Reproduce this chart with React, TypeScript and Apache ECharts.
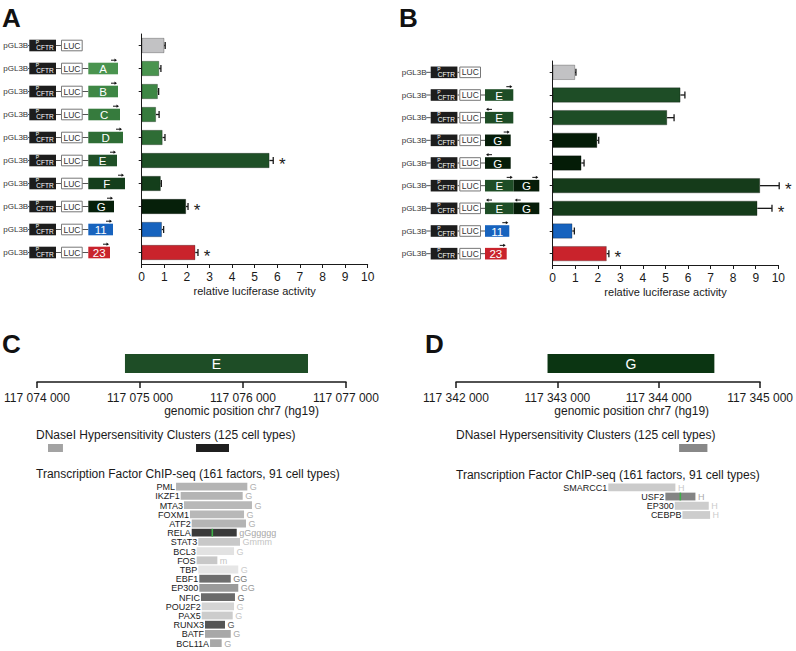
import React, { useEffect, useRef } from 'react';
import * as echarts from 'echarts';

const FONT = '"Liberation Sans", Arial, Helvetica, sans-serif';
const INK = '#1a1a1a';

// ---------------- Panel A ----------------
const aRows = ['ctrl', 'A', 'B', 'C', 'D', 'E', 'F', 'G', '11', '23'];
const aInserts = ['', 'A', 'B', 'C', 'D', 'E', 'F', 'G', '11', '23'];
const aValues = [1.0, 0.77, 0.71, 0.63, 0.92, 5.65, 0.84, 1.96, 0.89, 2.37];
const aErrors = [0.04, 0.08, 0.04, 0.14, 0.11, 0.17, 0.03, 0.09, 0.08, 0.12];
const aSig = [0, 0, 0, 0, 0, 1, 0, 1, 0, 1];
const aColors = ['#c2c2c4', '#4a944f', '#3e8745', '#367b3d', '#2e6d35', '#1f5027', '#143e1b', '#06200a', '#1763be', '#c9232c'];
const aInsertW = [0, 29.7, 29.7, 31.7, 34.7, 28.7, 36.7, 25.7, 24.7, 21.7];

// ---------------- Panel B ----------------
const bRows = ['ctrl', 'E+', 'E-', 'G+', 'G-', 'EG+', 'EG-', '11', '23'];
const bInserts: string[][] = [[], ['E'], ['E'], ['G'], ['G'], ['E', 'G'], ['E', 'G'], ['11'], ['23']];
const bOrient = [1, 1, -1, 1, -1, 1, -1, 1, 1];
const bValues = [0.99, 5.66, 5.07, 1.97, 1.27, 9.19, 9.07, 0.87, 2.39];
const bErrors = [0.04, 0.2, 0.31, 0.07, 0.12, 0.85, 0.65, 0.09, 0.1];
const bSig = [0, 0, 0, 0, 0, 1, 1, 0, 1];
const bColors = ['#c2c2c4', '#1e4d26', '#1e4d26', '#041c07', '#041c07', '#153b1a', '#153b1a', '#1763be', '#c9232c'];
const bInsertW: number[][] = [[], [28.3], [28.3], [25.7], [25.7], [28.7, 25.6], [28.7, 25.6], [24.3], [21.7]];
const segColor: Record<string, string> = { E: '#1e4d26', G: '#061d09', '11': '#1763be', '23': '#c9232c' };

// ---------------- Panel C ----------------
const cMin = 117074000;
const cRegion = ['E'];
const cRegionStart = [117074854];
const cRegionEnd = [117076631];
const cRegionColor = ['#1e4d26'];
const cDnaseStart = [117074107, 117075544];
const cDnaseEnd = [117074252, 117075864];
const cDnaseShade = ['#a3a3a3', '#1f1f1f'];
const cFactors = ['PML', 'IKZF1', 'MTA3', 'FOXM1', 'ATF2', 'RELA', 'STAT3', 'BCL3', 'FOS', 'TBP', 'EBF1', 'EP300', 'NFIC', 'POU2F2', 'PAX5', 'RUNX3', 'BATF', 'BCL11A'];
const cStart = [117075350, 117075395, 117075427, 117075485, 117075502, 117075502, 117075566, 117075550, 117075550, 117075566, 117075576, 117075576, 117075592, 117075599, 117075599, 117075631, 117075631, 117075680];
const cEnd = [117076042, 117075997, 117076087, 117076010, 117076029, 117075939, 117075971, 117075913, 117075751, 117075954, 117075881, 117075954, 117075922, 117075913, 117075900, 117075825, 117075881, 117075793];
const cSuffix = ['G', 'G', 'G', 'G', 'G', 'gGggggg', 'Gmmm', 'G', 'm', 'G', 'GG', 'GG', 'G', 'G', 'G', 'G', 'G', 'G'];
const cShade = ['#b4b4b4', '#b4b4b4', '#b8b8b8', '#b8b8b8', '#b4b4b4', '#3a3a3a', '#c8c8c8', '#e2e2e2', '#c8c8c8', '#e6e6e6', '#6e6e6e', '#9a9a9a', '#6a6a6a', '#d4d4d4', '#cccccc', '#555555', '#a8a8a8', '#a8a8a8'];
const cSuffixShade = ['#b0b0b0', '#b0b0b0', '#b0b0b0', '#b0b0b0', '#b0b0b0', '#a8a8a8', '#c4c4c4', '#c8c8c8', '#c4c4c4', '#cccccc', '#777777', '#999999', '#666666', '#c8c8c8', '#c4c4c4', '#555555', '#a8a8a8', '#a8a8a8'];
const cMotif = [0, 0, 0, 0, 0, 117075702, 0, 0, 0, 0, 0, 0, 0, 0, 0, 0, 0, 0];

// ---------------- Panel D ----------------
const dMin = 117342000;
const dRegion = ['G'];
const dRegionStart = [117342903];
const dRegionEnd = [117344549];
const dRegionColor = ['#0b3512'];
const dDnaseStart = [117344159];
const dDnaseEnd = [117344433];
const dDnaseShade = ['#888888'];
const dFactors = ['SMARCC1', 'USF2', 'EP300', 'CEBPB'];
const dStart = [117343474, 117344026, 117344117, 117344191];
const dEnd = [117344123, 117344317, 117344446, 117344459];
const dSuffix = ['H', 'H', 'H', 'H'];
const dShade = ['#cbcbcb', '#848484', '#cdcdcd', '#cdcdcd'];
const dSuffixShade = ['#c8c8c8', '#aaaaaa', '#cccccc', '#cccccc'];
const dMotif = [0, 117344171, 0, 0];

const fmtGenome = (v: number) => String(v).replace(/\B(?=(\d{3})+(?!\d))/g, ' ');

type Seg = { label: string; color: string; w: number; dir: number };
type Lay = { text: number; p: number; luc: number; ins: number };

function constructChildren(lay: Lay, cy: number, segs: Seg[]) {
  const h = 11.6;
  const top = cy - h / 2;
  const ch: any[] = [];
  ch.push({ type: 'text', style: { text: 'pGL3B', x: lay.text, y: cy, align: 'left', verticalAlign: 'middle', fontSize: 8, fontFamily: FONT, fill: '#333' } });
  ch.push({ type: 'line', shape: { x1: lay.text + 24.5, y1: cy, x2: lay.p, y2: cy }, style: { stroke: '#555', lineWidth: 1 } });
  ch.push({ type: 'rect', shape: { x: lay.p, y: top, width: 26.7, height: h }, style: { fill: '#1d1d1d' } });
  ch.push({ type: 'text', style: { text: 'P', x: lay.p + 6.5, y: top, align: 'left', verticalAlign: 'top', fontSize: 5, fontFamily: FONT, fill: '#fff' } });
  ch.push({ type: 'text', style: { text: 'CFTR', x: lay.p + 7, y: top + h, align: 'left', verticalAlign: 'bottom', fontSize: 6.5, fontFamily: FONT, fill: '#fff' } });
  ch.push({ type: 'line', shape: { x1: lay.p + 26.7, y1: cy, x2: lay.luc, y2: cy }, style: { stroke: '#555', lineWidth: 1 } });
  ch.push({ type: 'rect', shape: { x: lay.luc + 0.5, y: top + 0.5, width: 20.7, height: h - 1 }, style: { fill: '#fff', stroke: '#777', lineWidth: 1 } });
  ch.push({ type: 'text', style: { text: 'LUC', x: lay.luc + 11, y: cy, align: 'center', verticalAlign: 'middle', fontSize: 8.5, fontFamily: FONT, fill: '#333' } });
  if (segs.length) {
    ch.push({ type: 'line', shape: { x1: lay.luc + 21.5, y1: cy, x2: lay.ins, y2: cy }, style: { stroke: '#555', lineWidth: 1 } });
    let x = lay.ins;
    segs.forEach((s) => {
      ch.push({ type: 'rect', shape: { x, y: top, width: s.w, height: h }, style: { fill: s.color } });
      ch.push({ type: 'text', style: { text: s.label, x: x + s.w / 2, y: cy + 0.5, align: 'center', verticalAlign: 'middle', fontSize: 11.5, fontFamily: FONT, fill: '#fff' } });
      const ay = top - 2.5;
      if (s.dir > 0) {
        const x2 = x + s.w - 1;
        const x1 = x2 - 6;
        ch.push({ type: 'line', shape: { x1, y1: ay, x2: x2 - 1.5, y2: ay }, style: { stroke: '#111', lineWidth: 1 } });
        ch.push({ type: 'polygon', shape: { points: [[x2, ay], [x2 - 2.5, ay - 1.6], [x2 - 2.5, ay + 1.6]] }, style: { fill: '#111' } });
      } else {
        const x1 = x + 1;
        const x2 = x1 + 6;
        ch.push({ type: 'line', shape: { x1: x1 + 1.5, y1: ay, x2, y2: ay }, style: { stroke: '#111', lineWidth: 1 } });
        ch.push({ type: 'polygon', shape: { points: [[x1, ay], [x1 + 2.5, ay - 1.6], [x1 + 2.5, ay + 1.6]] }, style: { fill: '#111' } });
      }
      x += s.w;
    });
  }
  return ch;
}

const errorRender = (params: any, api: any) => {
  const v = api.value(0);
  const i = api.value(1);
  const e = api.value(2);
  const s = api.value(3);
  const p1 = api.coord([v, i]);
  const p2 = api.coord([v + e, i]);
  const children: any[] = [
    { type: 'line', shape: { x1: p1[0], y1: p1[1], x2: p2[0], y2: p2[1] }, style: { stroke: INK, lineWidth: 1.3 } },
    { type: 'line', shape: { x1: p2[0], y1: p2[1] - 3.5, x2: p2[0], y2: p2[1] + 3.5 }, style: { stroke: INK, lineWidth: 1.3 } },
  ];
  if (s) {
    children.push({ type: 'text', style: { text: '*', x: p2[0] + 9, y: p2[1] + 4, align: 'center', verticalAlign: 'middle', fontSize: 17, fontFamily: FONT, fill: INK } });
  }
  return { type: 'group', children };
};

function barXAxis(gridIndex: number) {
  return {
    type: 'value', gridIndex, min: 0, max: 10, interval: 1,
    axisLine: { show: true, onZero: false, lineStyle: { color: INK, width: 1 } },
    axisTick: { show: true, length: 4, lineStyle: { color: INK } },
    axisLabel: { fontSize: 12, color: INK, margin: 7, fontFamily: FONT },
    splitLine: { show: false },
    name: 'relative luciferase activity', nameLocation: 'middle', nameGap: 21,
    nameTextStyle: { fontSize: 11, color: INK, fontFamily: FONT },
  };
}
function barYAxis(gridIndex: number, data: string[]) {
  return {
    type: 'category', gridIndex, data, inverse: true,
    axisLine: { show: true, onZero: false, lineStyle: { color: INK } },
    axisTick: { show: true, alignWithLabel: true, length: 3, lineStyle: { color: INK } },
    axisLabel: { show: false },
  };
}
function genomeAxis(gridIndex: number, min: number, show: boolean) {
  return {
    type: 'value', gridIndex, min, max: min + 3000, interval: 1000, show,
    axisLine: { show: true, onZero: false, lineStyle: { color: INK, width: 1.5 } },
    axisTick: { show: true, length: 6, lineStyle: { color: INK, width: 1.5 } },
    axisLabel: { fontSize: 12, color: INK, margin: 10, fontFamily: FONT, formatter: fmtGenome, showMinLabel: true, showMaxLabel: true },
    splitLine: { show: false },
  };
}
const hiddenValueY = (gridIndex: number) => ({ type: 'value', gridIndex, min: 0, max: 1, show: false });
const hiddenCatY = (gridIndex: number, data: string[]) => ({ type: 'category', gridIndex, data, inverse: true, show: false });

function regionSeries(idx: number, starts: number[], ends: number[], names: string[], colors: string[]) {
  return {
    type: 'custom', xAxisIndex: idx, yAxisIndex: idx, silent: true,
    data: starts.map((s, i) => [s, ends[i], 0.5]),
    encode: { x: [0, 1], y: 2 },
    renderItem: (params: any, api: any) => {
      const i = params.dataIndex;
      const s = api.coord([api.value(0), 1]);
      const e = api.coord([api.value(1), 1]);
      return {
        type: 'group', children: [
          { type: 'rect', shape: { x: s[0], y: s[1], width: e[0] - s[0], height: 19 }, style: { fill: colors[i] } },
          { type: 'text', style: { text: names[i], x: (s[0] + e[0]) / 2, y: s[1] + 10, align: 'center', verticalAlign: 'middle', fill: '#fff', fontSize: 14, fontFamily: FONT } },
        ],
      };
    },
  };
}
function dnaseSeries(idx: number, starts: number[], ends: number[], shades: string[]) {
  return {
    type: 'custom', xAxisIndex: idx, yAxisIndex: idx, silent: true,
    data: starts.map((s, i) => [s, ends[i], 0.5]),
    encode: { x: [0, 1], y: 2 },
    renderItem: (params: any, api: any) => {
      const i = params.dataIndex;
      const s = api.coord([api.value(0), 1]);
      const e = api.coord([api.value(1), 0]);
      return { type: 'rect', shape: { x: s[0], y: s[1], width: e[0] - s[0], height: e[1] - s[1] }, style: { fill: shades[i] } };
    },
  };
}
function chipSeries(idx: number, names: string[], starts: number[], ends: number[], shades: string[], suffix: string[], sufShade: string[], motif: number[]) {
  return {
    type: 'custom', xAxisIndex: idx, yAxisIndex: idx, silent: true,
    data: starts.map((s, i) => [s, ends[i], i]),
    encode: { x: [0, 1], y: 2 },
    renderItem: (params: any, api: any) => {
      const i = params.dataIndex;
      const s = api.coord([api.value(0), i]);
      const e = api.coord([api.value(1), i]);
      const h = 7.8;
      const ch: any[] = [
        { type: 'rect', shape: { x: s[0], y: s[1] - h / 2, width: e[0] - s[0], height: h }, style: { fill: shades[i] } },
        { type: 'text', style: { text: names[i], x: s[0] - 1, y: s[1] + 0.5, align: 'right', verticalAlign: 'middle', fontSize: 9, fontFamily: FONT, fill: '#1a1a1a' } },
        { type: 'text', style: { text: suffix[i], x: e[0] + 2.5, y: s[1] + 0.5, align: 'left', verticalAlign: 'middle', fontSize: 9, fontFamily: FONT, fill: sufShade[i] } },
      ];
      if (motif[i]) {
        const m = api.coord([motif[i], i]);
        ch.push({ type: 'rect', shape: { x: m[0] - 0.8, y: s[1] - h / 2, width: 1.6, height: h }, style: { fill: '#3fae49' } });
      }
      return { type: 'group', children: ch };
    },
  };
}

function constructSeries(idx: number, n: number, lay: Lay, segsFor: (i: number) => Seg[]) {
  return {
    type: 'custom', xAxisIndex: idx, yAxisIndex: idx, silent: true, clip: false,
    data: Array.from({ length: n }, (_, i) => [0, i]),
    encode: { x: 0, y: 1 },
    renderItem: (params: any, api: any) => {
      const i = params.dataIndex;
      const cy = api.coord([0, i])[1];
      return { type: 'group', children: constructChildren(lay, cy, segsFor(i)) };
    },
  };
}

function buildOption(): any {
  const aLay: Lay = { text: 3.3, p: 29.3, luc: 61, ins: 88.3 };
  const bLay: Lay = { text: 401.7, p: 430.7, luc: 459.3, ins: 485 };
  const letter = (t: string, x: number, y: number) => ({
    type: 'text', left: x, top: y, silent: true,
    style: { text: t, fontSize: 26, fontWeight: 'bold', fontFamily: FONT, fill: '#111' },
  });
  const label = (t: string, x: number, y: number, align = 'left') => ({
    type: 'text', x, y, silent: true,
    style: { text: t, fontSize: 12, fontFamily: FONT, fill: INK, align, verticalAlign: 'middle' },
  });
  return {
    animation: false,
    backgroundColor: '#ffffff',
    textStyle: { fontFamily: FONT },
    grid: [
      { left: 141.7, top: 34, width: 226, height: 230 },
      { left: 552.7, top: 61, width: 225.6, height: 204 },
      { left: 37, top: 354, width: 309, height: 28 },
      { left: 37, top: 444, width: 309, height: 8 },
      { left: 37, top: 482.1, width: 309, height: 165.6 },
      { left: 456, top: 354, width: 310, height: 28 },
      { left: 456, top: 444, width: 310, height: 8 },
      { left: 456, top: 482.7, width: 310, height: 36.9 },
    ],
    xAxis: [
      barXAxis(0), barXAxis(1),
      genomeAxis(2, cMin, true), genomeAxis(3, cMin, false), genomeAxis(4, cMin, false),
      genomeAxis(5, dMin, true), genomeAxis(6, dMin, false), genomeAxis(7, dMin, false),
    ],
    yAxis: [
      barYAxis(0, aRows), barYAxis(1, bRows),
      hiddenValueY(2), hiddenValueY(3), hiddenCatY(4, cFactors),
      hiddenValueY(5), hiddenValueY(6), hiddenCatY(7, dFactors),
    ],
    graphic: [
      letter('A', 2, 5),
      letter('B', 399, 5),
      letter('C', 2, 331),
      letter('D', 425, 331),
      label('genomic position chr7 (hg19)', 241.5, 411, 'center'),
      label('genomic position chr7 (hg19)', 631.7, 411, 'center'),
      label('DNaseI Hypersensitivity Clusters (125 cell types)', 36, 435),
      label('DNaseI Hypersensitivity Clusters (125 cell types)', 456, 435),
      label('Transcription Factor ChIP-seq (161 factors, 91 cell types)', 36, 474),
      label('Transcription Factor ChIP-seq (161 factors, 91 cell types)', 456, 475),
    ],
    series: [
      {
        type: 'bar', xAxisIndex: 0, yAxisIndex: 0, barWidth: 15, silent: true,
        data: aValues.map((v, i) => ({ value: v, itemStyle: { color: aColors[i], borderColor: 'rgba(0,0,0,0.45)', borderWidth: 0.6 } })),
      },
      { type: 'custom', xAxisIndex: 0, yAxisIndex: 0, silent: true, data: aValues.map((v, i) => [v, i, aErrors[i], aSig[i]]), encode: { x: 0, y: 1 }, renderItem: errorRender },
      constructSeries(0, aRows.length, aLay, (i) => (aInserts[i] ? [{ label: aInserts[i], color: aColors[i], w: aInsertW[i], dir: 1 }] : [])),
      {
        type: 'bar', xAxisIndex: 1, yAxisIndex: 1, barWidth: 15, silent: true,
        data: bValues.map((v, i) => ({ value: v, itemStyle: { color: bColors[i], borderColor: 'rgba(0,0,0,0.45)', borderWidth: 0.6 } })),
      },
      { type: 'custom', xAxisIndex: 1, yAxisIndex: 1, silent: true, data: bValues.map((v, i) => [v, i, bErrors[i], bSig[i]]), encode: { x: 0, y: 1 }, renderItem: errorRender },
      constructSeries(1, bRows.length, bLay, (i) => bInserts[i].map((lab, k) => ({ label: lab, color: segColor[lab], w: bInsertW[i][k], dir: bOrient[i] }))),
      regionSeries(2, cRegionStart, cRegionEnd, cRegion, cRegionColor),
      dnaseSeries(3, cDnaseStart, cDnaseEnd, cDnaseShade),
      chipSeries(4, cFactors, cStart, cEnd, cShade, cSuffix, cSuffixShade, cMotif),
      regionSeries(5, dRegionStart, dRegionEnd, dRegion, dRegionColor),
      dnaseSeries(6, dDnaseStart, dDnaseEnd, dDnaseShade),
      chipSeries(7, dFactors, dStart, dEnd, dShade, dSuffix, dSuffixShade, dMotif),
    ],
  };
}

export default function App() {
  const ref = useRef<HTMLDivElement>(null);
  useEffect(() => {
    const chart = echarts.init(ref.current!, null, { renderer: 'svg' });
    chart.setOption(buildOption());
    return () => chart.dispose();
  }, []);
  return <div ref={ref} style={{ position: 'fixed', left: 0, top: 0, width: 796, height: 651, background: '#fff' }} />;
}
